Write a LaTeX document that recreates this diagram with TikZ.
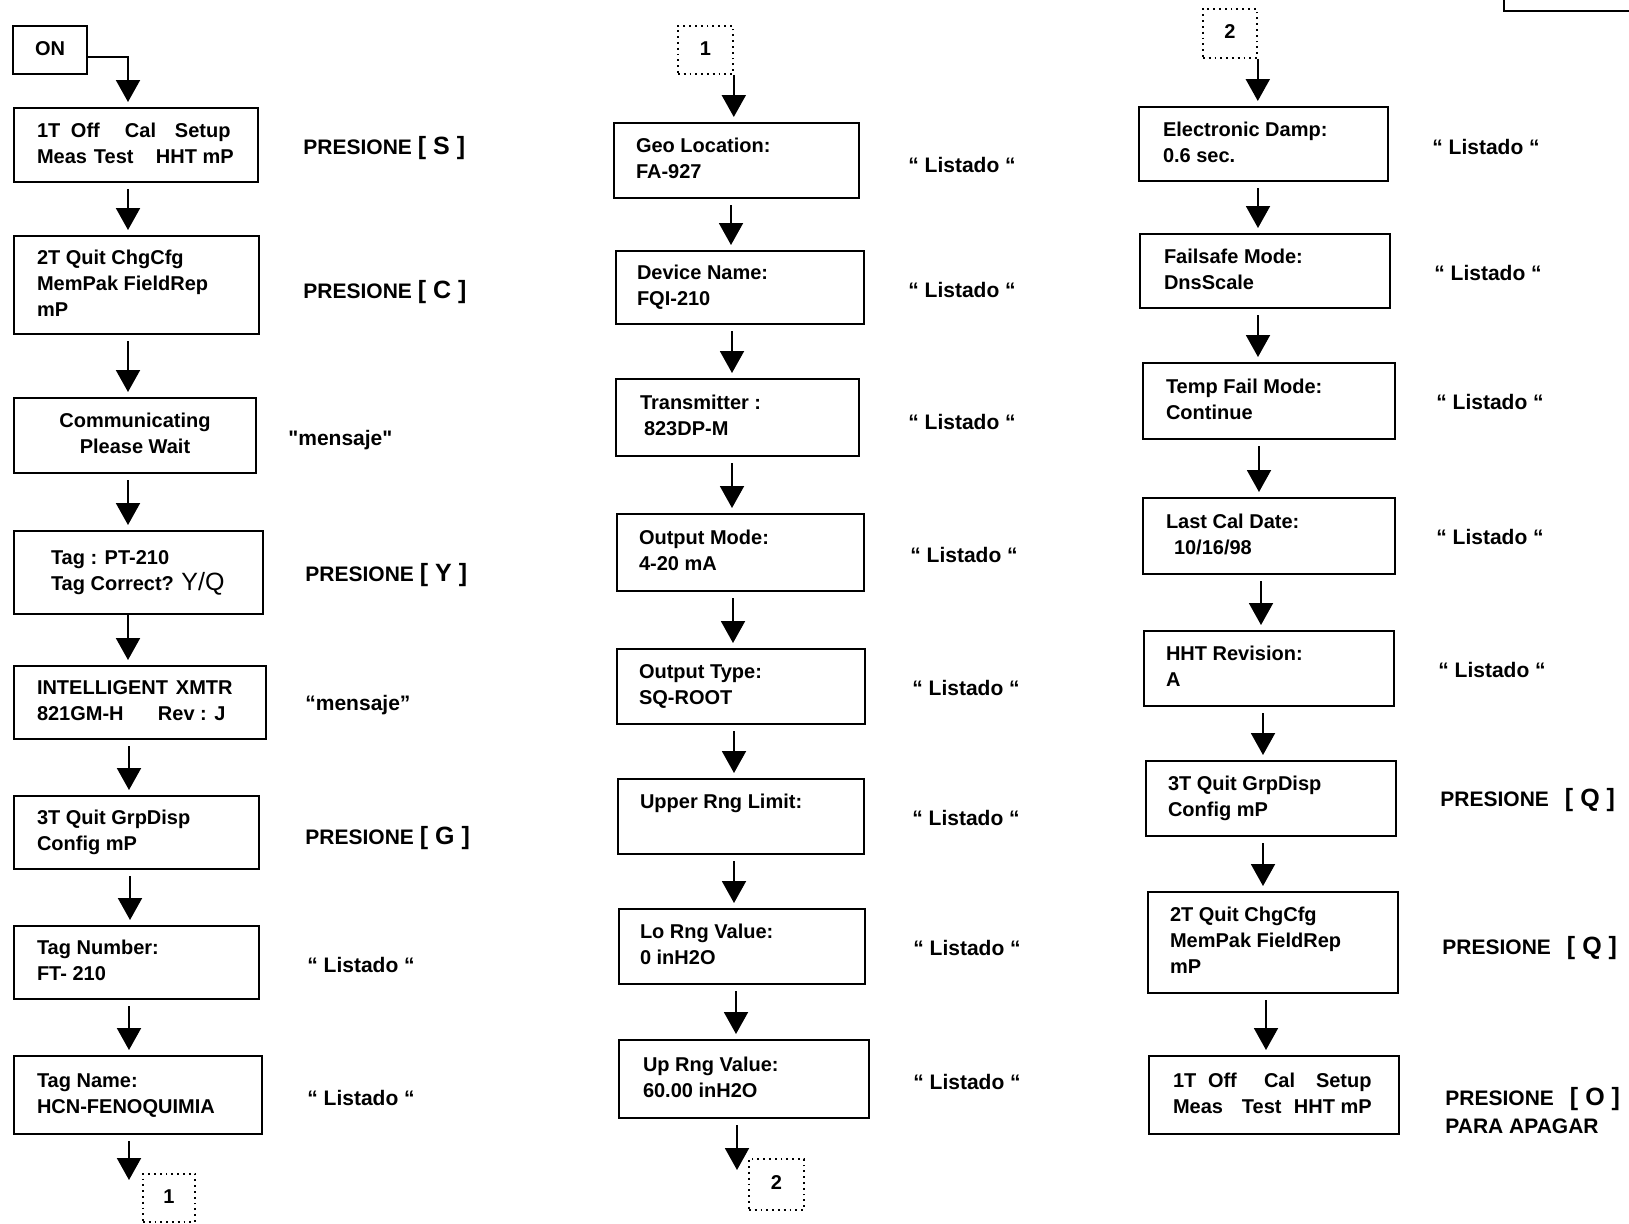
\documentclass[tikz,border=0pt]{standalone}
\usepackage{fontspec}
\setmainfont{Liberation Sans}
\usetikzlibrary{arrows.meta}

% \boxat[style]{name}{x1}{y1}{x2}{y2}{left padding}{lines}  (coordinates in px)
\newcommand\boxat[8][screen]{%
  \pgfmathsetmacro\bxW{(#5-#3)*0.5}%
  \pgfmathsetmacro\bxH{(#6-#4)*0.5}%
  \pgfmathsetmacro\bxP{#7*0.5}%
  \node[#1, anchor=north west, minimum width=\bxW pt, minimum height=\bxH pt,
        inner xsep=0pt] (#2) at (#3,#4)
    {\makebox[\bxW pt][l]{\hspace*{\bxP pt}\begin{tabular}{@{}l@{}}#8\end{tabular}}};}
% \cboxat[style]{name}{x1}{y1}{x2}{y2}{lines}  -- centred text
\newcommand\cboxat[7][screen]{%
  \pgfmathsetmacro\bxW{(#5-#3)*0.5}%
  \pgfmathsetmacro\bxH{(#6-#4)*0.5}%
  \node[#1, anchor=north west, minimum width=\bxW pt, minimum height=\bxH pt,
        inner xsep=0pt] (#2) at (#3,#4)
    {\makebox[\bxW pt][c]{\begin{tabular}{@{}c@{}}#7\end{tabular}}};}
% key in brackets, set a little larger
\newcommand\keyb[1]{{\fontsize{12.5}{13}\selectfont[\hspace{3.5pt}#1\hspace{3.5pt}]}}

\begin{document}
\begin{tikzpicture}[x=0.5pt,y=-0.5pt,
  screen/.style={draw, line width=1pt, inner ysep=0pt,
                 font=\fontsize{10}{13}\selectfont\bfseries},
  conn/.style={draw, dotted, line width=0.9pt, inner ysep=0pt,
               font=\fontsize{10}{13}\selectfont\bfseries},
  lbl/.style={anchor=west, inner sep=0pt, align=left,
              font=\fontsize{10.5}{14}\selectfont\bfseries},
  arr/.style={line width=1pt, -{Triangle[width=12pt,length=11pt]},
              shorten <=3pt, shorten >=2.5pt},
]
\useasboundingbox (0,0) rectangle (1629,1223);

% ---------------- first column ----------------
\cboxat{on}{12}{25}{86}{73}{ON}
\boxat{b1}{13}{107}{257}{181}{23}{\makebox[17pt][l]{1T}\makebox[27pt][l]{Off}\makebox[25pt][l]{Cal}Setup\\\makebox[28.5pt][l]{Meas}\makebox[31pt][l]{Test}HHT mP}
\boxat{b2}{13}{235}{258}{333}{23}{2T Quit ChgCfg\\MemPak FieldRep\\mP}
\cboxat{b3}{13}{397}{255}{472}{Communicating\\Please Wait}
\boxat{b4}{13}{530}{262}{613}{37}{Tag : PT-210\\Tag Correct? {\fontsize{12.5}{13}\selectfont\mdseries Y/Q}}
\boxat{b5}{13}{665}{265}{738}{23}{\makebox[69.5pt][l]{INTELLIGENT}XMTR\\\makebox[60.5pt][l]{821GM-H}Rev : J}
\boxat{b6}{13}{795}{258}{868}{23}{3T Quit GrpDisp\\Config mP}
\boxat{b7}{13}{925}{258}{998}{23}{Tag Number:\\FT- 210}
\boxat{b8}{13}{1055}{261}{1133}{23}{Tag Name:\\HCN-FENOQUIMIA}
\cboxat[conn]{c1}{142}{1173}{194}{1221}{1}
\coordinate (c1in) at (129,1180);

\node[lbl] (l1) at (303,148) {PRESIONE \keyb{S}};
\node[lbl] (l2) at (303,292) {PRESIONE \keyb{C}};
\node[lbl] (l3) at (288,440) {\textquotedbl mensaje\textquotedbl};
\node[lbl] (l4) at (305,575) {PRESIONE \keyb{Y}};
\node[lbl] (l5) at (305,705) {“mensaje”};
\node[lbl] (l6) at (305,838) {PRESIONE \keyb{G}};
\node[lbl] (l7) at (307,965) {“ Listado “};
\node[lbl] (l8) at (307,1098) {“ Listado “};

\draw[arr, shorten <=0pt] ([yshift=-3.5pt]on.east) -| (b1.north -| 128,0);
\draw[arr] (b1.south -| 128,0) -- (b2.north -| 128,0);
\draw[arr] (b2.south -| 128,0) -- (b3.north -| 128,0);
\draw[arr] (b3.south -| 128,0) -- (b4.north -| 128,0);
\draw[arr, shorten <=0pt] (b4.south -| 128,0) -- (b5.north -| 128,0);
\draw[arr] (b5.south -| 129,0) -- (b6.north -| 129,0);
\draw[arr] (b6.south -| 130,0) -- (b7.north -| 130,0);
\draw[arr] (b7.south -| 129,0) -- (b8.north -| 129,0);
\draw[arr, shorten >=0pt] (b8.south -| 129,0) -- (c1in);

% ---------------- second column ----------------
\cboxat[conn]{k1}{677}{25}{732}{73}{1}
\boxat{g1}{613}{122}{858}{197}{22}{Geo Location:\\FA-927}
\boxat{g2}{615}{250}{863}{323}{21}{Device Name:\\FQI-210}
\boxat{g3}{615}{378}{858}{455}{24}{Transmitter :\\\hspace*{2pt}823DP-M}
\boxat{g4}{616}{513}{863}{590}{22}{Output Mode:\\4-20 mA}
\boxat{g5}{616}{648}{864}{723}{22}{Output Type:\\SQ-ROOT}
\boxat{g6}{617}{778}{863}{853}{22}{Upper Rng Limit:\\\mbox{}}
\boxat{g7}{618}{908}{864}{983}{21}{Lo Rng Value:\\0 inH2O}
\boxat{g8}{618}{1039}{868}{1117}{24}{Up Rng Value:\\60.00 inH2O}
\cboxat[conn]{k2}{748}{1158}{803}{1209}{2}
\coordinate (c2in) at (737,1170);

\node[lbl] (m1) at (908,165) {“ Listado “};
\node[lbl] (m2) at (908,290) {“ Listado “};
\node[lbl] (m3) at (908,422) {“ Listado “};
\node[lbl] (m4) at (910,555) {“ Listado “};
\node[lbl] (m5) at (912,688) {“ Listado “};
\node[lbl] (m6) at (912,818) {“ Listado “};
\node[lbl] (m7) at (913,948) {“ Listado “};
\node[lbl] (m8) at (913,1082) {“ Listado “};

\draw[arr, shorten <=0pt] (k1.south east) -- (g1.north -| k1.south east);
\draw[arr] (g1.south -| 731,0) -- (g2.north -| 731,0);
\draw[arr] (g2.south -| 732,0) -- (g3.north -| 732,0);
\draw[arr] (g3.south -| 732,0) -- (g4.north -| 732,0);
\draw[arr] (g4.south -| 733,0) -- (g5.north -| 733,0);
\draw[arr] (g5.south -| 734,0) -- (g6.north -| 734,0);
\draw[arr] (g6.south -| 734,0) -- (g7.north -| 734,0);
\draw[arr] (g7.south -| 736,0) -- (g8.north -| 736,0);
\draw[arr, shorten >=0pt] (g8.south -| 737,0) -- (c2in);

% ---------------- third column ----------------
\cboxat[conn]{k3}{1202}{8}{1256}{57}{2}
\boxat{r1}{1138}{106}{1387}{180}{24}{Electronic Damp:\\0.6 sec.}
\boxat{r2}{1139}{233}{1389}{307}{24}{Failsafe Mode:\\DnsScale}
\boxat{r3}{1142}{362}{1394}{438}{23}{Temp Fail Mode:\\Continue}
\boxat{r4}{1142}{497}{1394}{573}{23}{Last Cal Date:\\\hspace*{4pt}10/16/98}
\boxat{r5}{1143}{630}{1393}{705}{22}{HHT Revision:\\A}
\boxat{r6}{1145}{760}{1395}{835}{22}{3T Quit GrpDisp\\Config mP}
\boxat{r7}{1147}{891}{1397}{992}{22}{2T Quit ChgCfg\\MemPak FieldRep\\mP}
\boxat{r8}{1148}{1055}{1398}{1133}{24}{\makebox[17.5pt][l]{1T}\makebox[28pt][l]{Off}\makebox[26pt][l]{Cal}Setup\\\makebox[34.5pt][l]{Meas}\makebox[26pt][l]{Test}HHT mP}

\node[lbl] (n1) at (1432,147) {“ Listado “};
\node[lbl] (n2) at (1434,273) {“ Listado “};
\node[lbl] (n3) at (1436,402) {“ Listado “};
\node[lbl] (n4) at (1436,537) {“ Listado “};
\node[lbl] (n5) at (1438,670) {“ Listado “};
\node[lbl] (n6) at (1440,800) {PRESIONE\hspace{8pt}\keyb{Q}};
\node[lbl] (n7) at (1442,948) {PRESIONE\hspace{8pt}\keyb{Q}};
\node[lbl] (n8) at (1445,1111) {PRESIONE\hspace{8pt}\keyb{O}\\PARA APAGAR};

\draw[arr, shorten <=0pt] (k3.south east) -- (r1.north -| k3.south east);
\draw[arr] (r1.south -| 1258,0) -- (r2.north -| 1258,0);
\draw[arr] (r2.south -| 1258,0) -- (r3.north -| 1258,0);
\draw[arr] (r3.south -| 1259,0) -- (r4.north -| 1259,0);
\draw[arr] (r4.south -| 1261,0) -- (r5.north -| 1261,0);
\draw[arr] (r5.south -| 1263,0) -- (r6.north -| 1263,0);
\draw[arr] (r6.south -| 1263,0) -- (r7.north -| 1263,0);
\draw[arr] (r7.south -| 1266,0) -- (r8.north -| 1266,0);

% corner of the frame running off the top right edge
\draw[line width=1pt] (1504,0) -- (1504,11) -- (1629,11);
\end{tikzpicture}
\end{document}
